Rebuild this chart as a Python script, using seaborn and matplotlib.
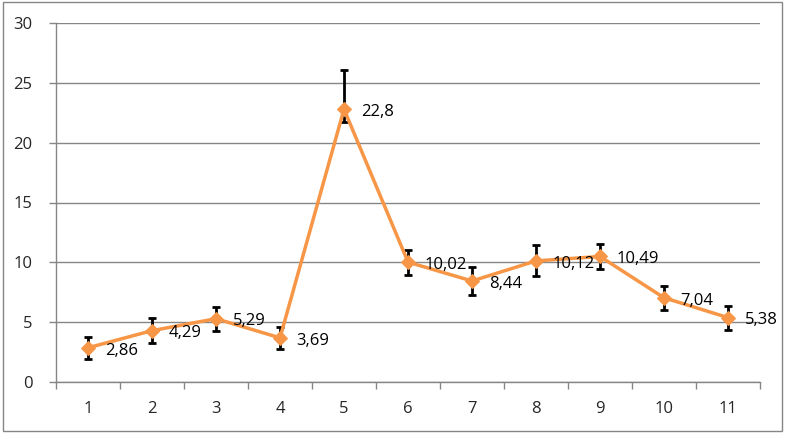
import matplotlib
matplotlib.use("Agg")
import matplotlib.pyplot as plt
import seaborn as sns
import pandas as pd
import numpy as np

categories = [1, 2, 3, 4, 5, 6, 7, 8, 9, 10, 11]
values = [2.86, 4.29, 5.29, 3.69, 22.8, 10.02, 8.44, 10.12, 10.49, 7.04, 5.38]
err_low = [0.9, 1.05, 1.0, 0.9, 1.05, 1.05, 1.2, 1.3, 1.05, 1.0, 1.0]
err_high = [0.9, 1.05, 1.0, 0.9, 3.3, 1.05, 1.2, 1.3, 1.05, 1.0, 1.0]
labels = ["2,86", "4,29", "5,29", "3,69", "22,8", "10,02", "8,44", "10,12", "10,49", "7,04", "5,38"]

sns.set_theme(style="white")
plt.rcParams['font.family'] = ['Open Sans', 'DejaVu Sans']

df = pd.DataFrame({"cat": categories, "val": values})

fig = plt.figure(figsize=(7.88, 4.34), dpi=100)
ax = fig.add_axes([56/788, 1-382/434, 704/788, 359/434])

ax.errorbar(categories, values, yerr=[err_low, err_high], fmt='none',
            ecolor='black', elinewidth=2, capsize=3, capthick=2, zorder=2)
sns.lineplot(data=df, x="cat", y="val", ax=ax, color="#F79646", linewidth=2.5,
             marker="D", markersize=7, markeredgecolor="#F79646", zorder=3)

for x, y, t in zip(categories, values, labels):
    ax.annotate(t, (x, y), xytext=(12, -2), textcoords="offset points",
                ha="left", va="center", fontsize=12, color="black", zorder=4)

ax.set_xlim(0.5, 11.5)
ax.set_ylim(0, 30)
ax.set_yticks(range(0, 31, 5))
ax.set_xticks(categories)
ax.set_xticks(np.arange(0.5, 11.6, 1), minor=True)
ax.tick_params(axis='x', which='major', length=0, labelsize=12, pad=14)
ax.tick_params(axis='x', which='minor', length=5, color='#868686', direction='out', bottom=True)
ax.tick_params(axis='y', which='major', length=5, width=1, color='#868686', direction='out',
               left=True, labelsize=12, pad=12)
ax.set_xlabel("")
ax.set_ylabel("")
ax.grid(axis='y', color='#868686', linewidth=1)
ax.set_axisbelow(True)
for s in ["top", "right"]:
    ax.spines[s].set_visible(False)
for s in ["left", "bottom"]:
    ax.spines[s].set_color('#868686')
    ax.spines[s].set_linewidth(1)

border = plt.Rectangle((3/788, 3/434), 779/788, 429/434, transform=fig.transFigure,
                       fill=False, edgecolor='#868686', linewidth=1)
fig.patches.append(border)

fig.savefig("out.png", dpi=100)
